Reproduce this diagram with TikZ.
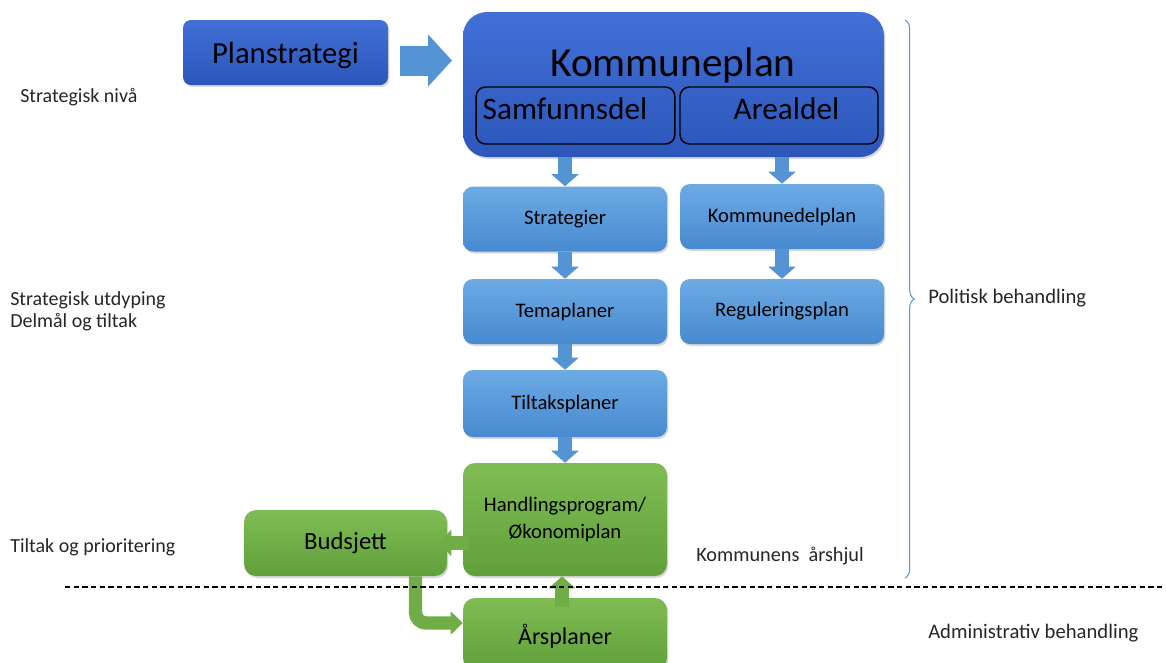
\documentclass[tikz,border=0pt]{standalone}
\usepackage{fontspec}
\setmainfont{Carlito}
\usetikzlibrary{arrows.meta,shadows,decorations.pathreplacing,calc}

\definecolor{kpTop}{RGB}{66,112,214}
\definecolor{kpBot}{RGB}{44,86,186}
\definecolor{lbTop}{RGB}{108,170,228}
\definecolor{lbBot}{RGB}{72,138,208}
\definecolor{grTop}{RGB}{128,188,84}
\definecolor{grBot}{RGB}{96,160,58}
\definecolor{arrowBlue}{RGB}{84,148,212}
\definecolor{arrowGreen}{RGB}{112,173,71}
\definecolor{braceBlue}{RGB}{91,155,213}
\definecolor{labelGray}{RGB}{38,38,38}

\begin{document}
\begin{tikzpicture}[x=0.75pt,y=-0.75pt,
    shade/.style={drop shadow={opacity=0.3,shadow xshift=1pt,shadow yshift=-1.5pt}},
    dbox/.style={shade, rounded corners=6pt, top color=kpTop, bottom color=kpBot, inner sep=0pt},
    bbox/.style={shade, rounded corners=7.5pt, top color=lbTop, bottom color=lbBot, inner sep=0pt,
        minimum width=153pt, minimum height=48.75pt, font=\fontsize{15.5}{18}\selectfont},
    gbox/.style={shade, rounded corners=9pt, top color=grTop, bottom color=grBot, inner sep=0pt,
        minimum width=153pt},
    sub/.style={draw=black, line width=1.1pt, rounded corners=7pt, minimum width=149pt,
        minimum height=42.75pt, inner sep=0pt, text height=16pt, text depth=10.6pt,
        font=\fontsize{23.5}{26}\selectfont},
    barrow/.style={draw=arrowBlue, line width=11pt, -{Triangle[width=20pt,length=9pt]}},
    garrow/.style={draw=arrowGreen, line width=11pt, -{Triangle[width=19.5pt,length=9pt]}},
    lbl/.style={anchor=west, inner sep=0pt, text=labelGray, font=\fontsize{15}{16.5}\selectfont, align=left}]
    \useasboundingbox (0,0) rectangle (1166,662);

    % top level
    \node [dbox, minimum width=153.75pt, minimum height=48.75pt, text height=17pt, text depth=0pt,
        font=\fontsize{23}{26}\selectfont] (plan) at (285.5,52.5) {Planstrategi};
    \node [dbox, rounded corners=18pt, minimum width=315.75pt, minimum height=108.75pt] (kp) at (673.5,84.5) {};
    \node [font=\fontsize{31}{34}\selectfont] (kptxt) at (673,65) {Kommuneplan};
    \node [sub] (samf) at (575.5,115.5) {Samfunnsdel\hspace*{15.75pt}};
    \node [sub, minimum width=148.5pt] (areal) at (779,115.5) {\hspace*{11.25pt}Arealdel};

    % blue boxes
    \node [bbox] (strat) at (565,219) {Strategier};
    \node [bbox] (kdp) at (782,216.5) {Kommunedelplan};
    \node [bbox] (tema) at (565,311.5) {Temaplaner};
    \node [bbox] (reg) at (782,311.5) {Reguleringsplan};
    \node [bbox, minimum height=50.25pt] (tilt) at (565,403.5) {Tiltaksplaner};

    % green boxes
    \node [gbox, minimum height=84.75pt, align=center, font=\fontsize{15.5}{20}\selectfont] (handl) at (565,519.5) {Handlingsprogram/\\Økonomiplan};
    \node [gbox, minimum width=152.25pt, minimum height=49.5pt, font=\fontsize{18.5}{20}\selectfont] (budsj) at (345.5,543) {Budsjett};
    \node [gbox, minimum height=54pt, font=\fontsize{18}{20}\selectfont, text depth=0pt] (ars) at (565,634) {Årsplaner};

    % block arrows
    \coordinate (pa) at ($(plan.east)+(0,8)$);
    \draw [barrow, line width=22.5pt, -{Triangle[width=38pt,length=18pt]}, shorten <=9pt, shorten >=8pt] (pa) -- (pa -| kp.west);
    \draw [barrow] (kp.south -| strat.north) -- (strat.north);
    \draw [barrow] (kp.south -| kdp.north) -- (kdp.north);
    \draw [barrow] (strat.south) -- (tema.north);
    \draw [barrow] (kdp.south) -- (reg.north);
    \draw [barrow] (tema.south) -- (tilt.north);
    \draw [barrow] (tilt.south) -- (handl.north);
    \draw [garrow, shorten <=-5pt, shorten >=-6pt] (handl.west |- budsj.east) -- (budsj.east);
    \draw [garrow, line width=10pt, shorten <=-7pt] ($(ars.north)+(-3,0)$) -- ($(handl.south)+(-3,0)$);
    \draw [garrow, line width=10pt, -{Triangle[width=17pt,length=9pt]}, rounded corners=8pt] ($(budsj.south)+(70,0)$) |- ($(ars.west)+(0,-11)$);

    % dashed border between political and administrative
    \coordinate (dl) at (65,587);
    \coordinate (dr) at (1166,587);
    \draw [dashed, dash pattern=on 4pt off 2.5pt, line width=0.8pt] (dl) -- (dr);

    % brace
    \coordinate (bt) at (905,20);
    \coordinate (bb) at (905,578);
    \draw [braceBlue, line width=0.8pt, decorate, decoration={brace, amplitude=7pt}] (bt) -- (bb);

    % labels
    \node [lbl] (niva) at (20,97) {Strategisk nivå};
    \node [lbl] (utdyp) at (10,311) {Strategisk utdyping\\Delmål og tiltak};
    \node [lbl] (prior) at (10,547) {Tiltak og prioritering};
    \node [lbl, font=\fontsize{15.5}{17}\selectfont] (polit) at (928,298) {Politisk behandling};
    \node [lbl, font=\fontsize{15.5}{17}\selectfont] (admin) at (928,633) {Administrativ behandling};
    \node [lbl, font=\fontsize{15.2}{17}\selectfont] (hjul) at (696,556) {Kommunens~ årshjul};
\end{tikzpicture}
\end{document}
